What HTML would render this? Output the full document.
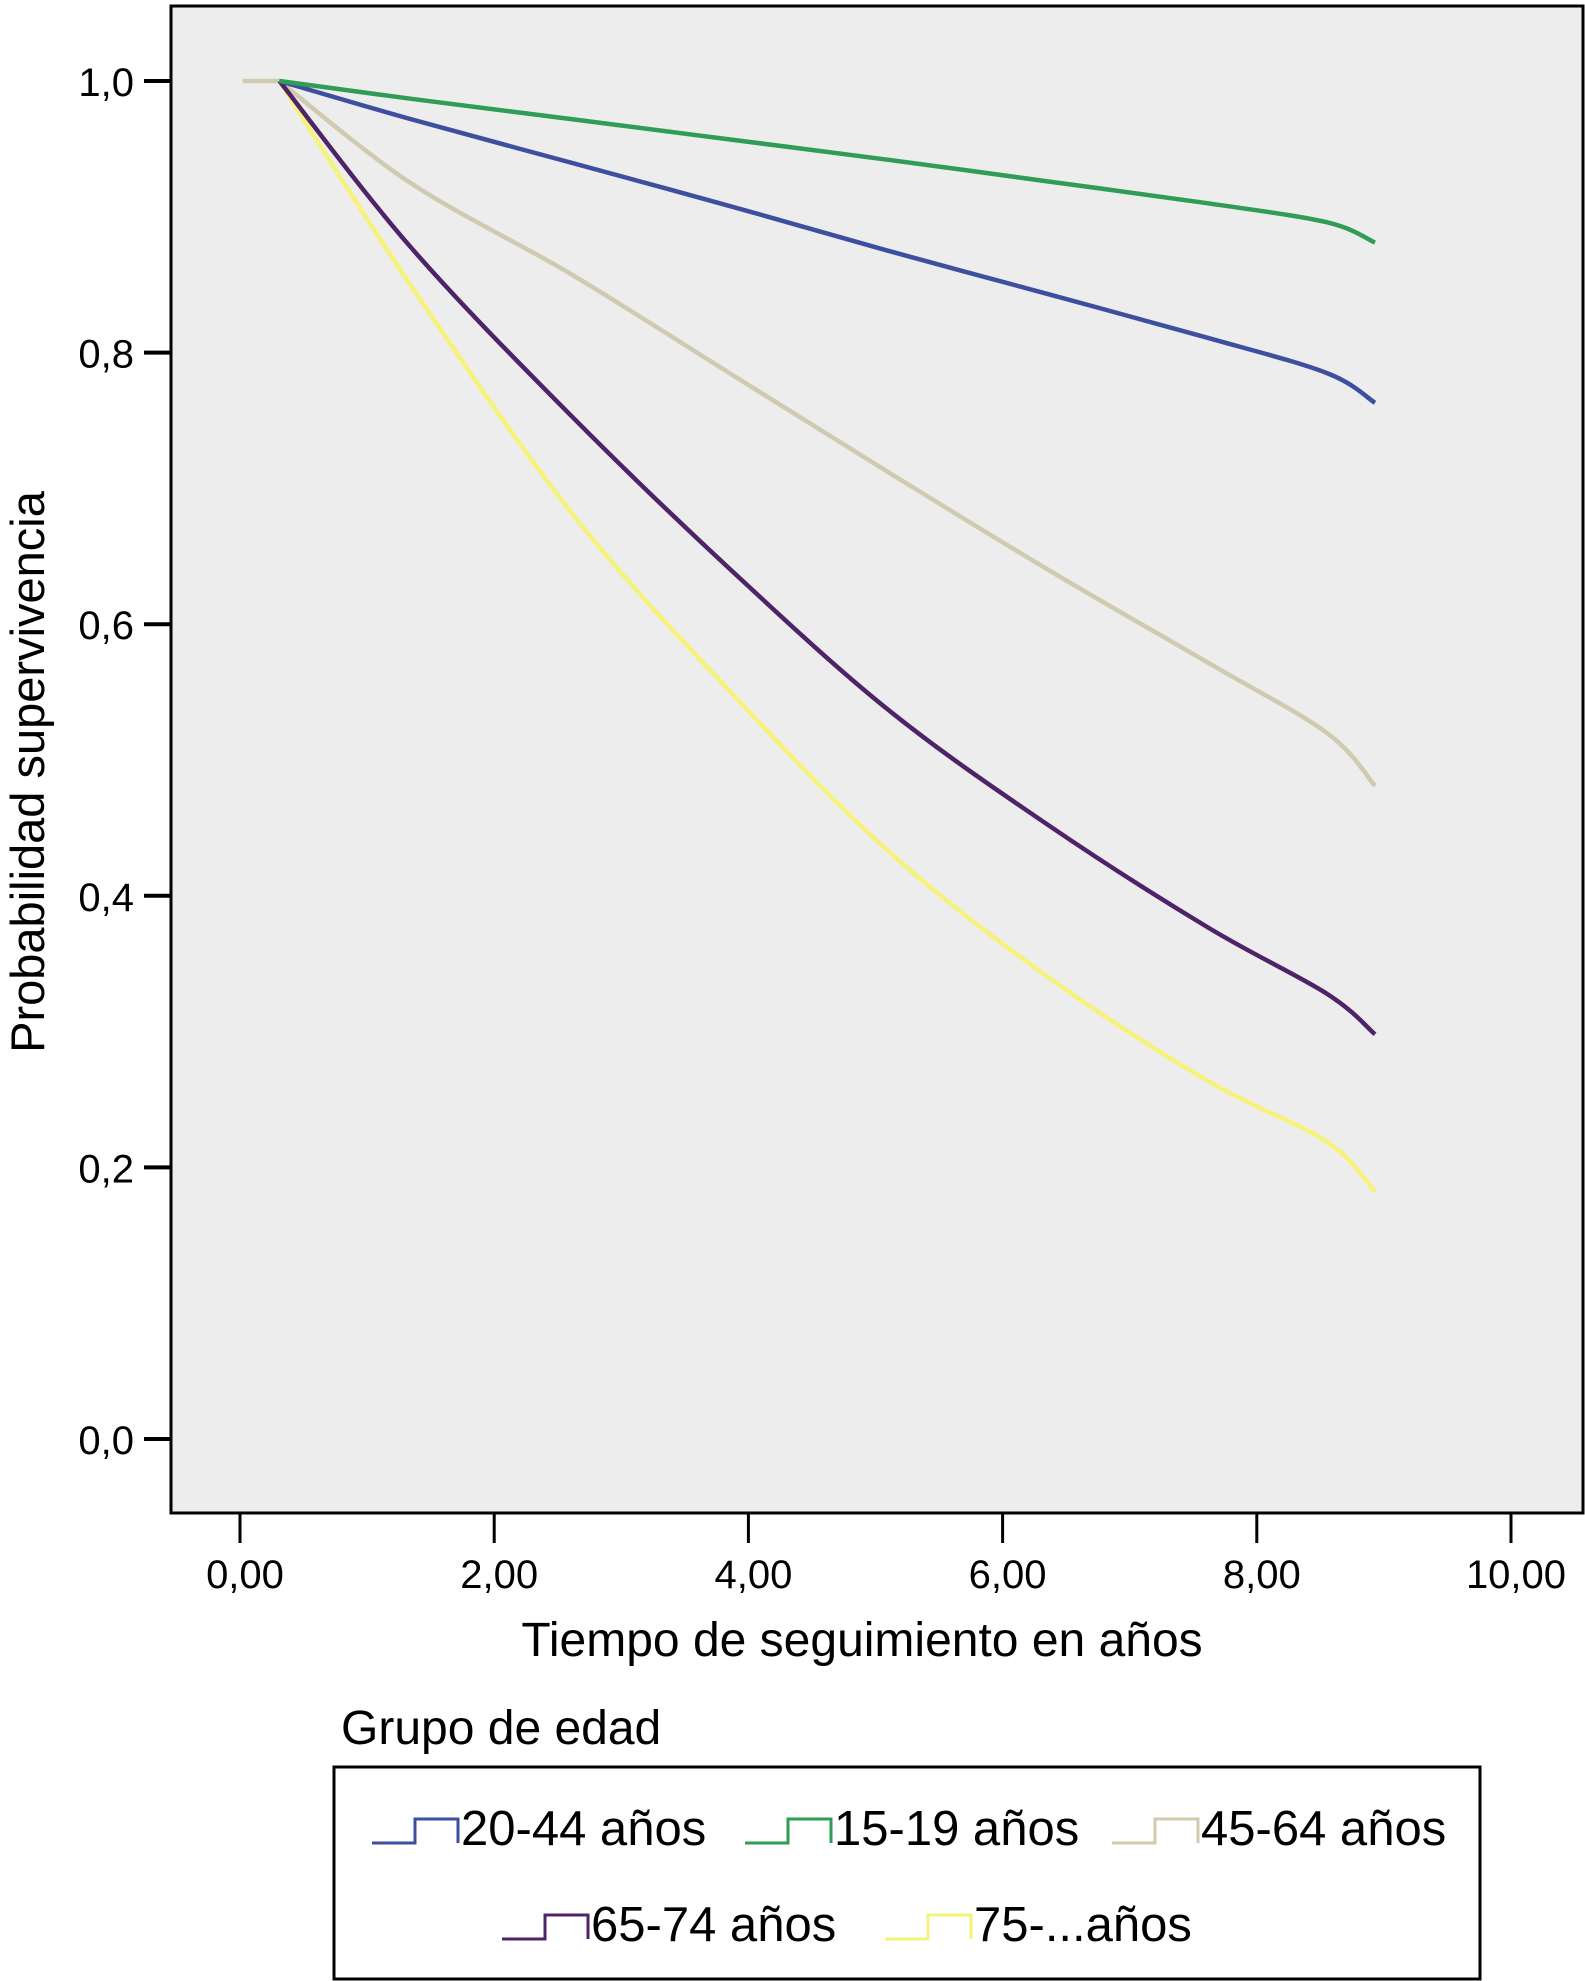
<!DOCTYPE html>
<html><head><meta charset="utf-8"><style>
html,body{margin:0;padding:0;background:#fff;width:1585px;height:1981px;overflow:hidden}
svg text{font-family:"Liberation Sans",sans-serif;fill:#000}
</style></head><body>
<svg id="chart" width="1585" height="1981" viewBox="0 0 1585 1981" xmlns="http://www.w3.org/2000/svg">
<rect x="171" y="6" width="1412" height="1507" fill="#ededed" stroke="#000" stroke-width="3"/>
<g id="yticks"></g><g id="xticks"></g><g id="series"></g>
<text transform="translate(44,772) rotate(-90)" text-anchor="middle" font-size="47">Probabilidad supervivencia</text>
<text x="862" y="1656" text-anchor="middle" font-size="48">Tiempo de seguimiento en años</text>
<text x="341" y="1744" font-size="48">Grupo de edad</text>
<rect x="334" y="1767" width="1146" height="212" fill="none" stroke="#000" stroke-width="3"/>
<g id="legend"></g>
</svg>
<script>
const yTickVals=[0,0.2,0.4,0.6,0.8,1.0];
const yTickLabels=["0,0","0,2","0,4","0,6","0,8","1,0"];
const xTickVals=[0,2,4,6,8,10];
const xTickLabels=["0,00","2,00","4,00","6,00","8,00","10,00"];
const seriesNames=["20-44 años","15-19 años","45-64 años","65-74 años","75-...años"];
const seriesColors=["#3d4f9e","#2f9d55","#cfcab0","#4f2368","#f6f27a"];
const times=[0.31,1.34,2.60,3.85,5.10,6.36,7.61,8.55,8.93];
const v2044=[1.0,0.972,0.940,0.908,0.875,0.843,0.811,0.785,0.763];
const v1519=[1.0,0.987,0.972,0.957,0.942,0.926,0.910,0.896,0.881];
const v4564=[1.0,0.925,0.858,0.785,0.712,0.640,0.572,0.520,0.481];
const v6574=[1.0,0.878,0.754,0.641,0.537,0.452,0.377,0.328,0.298];
const v75=[1.0,0.850,0.683,0.551,0.433,0.340,0.264,0.219,0.182];
const seriesVals=[v2044,v1519,v4564,v6574,v75];
const NS="http://www.w3.org/2000/svg";
const X=t=>240+t*127.1, Y=v=>1439-v*1358;
function mk(tag,attrs,parent){const e=document.createElementNS(NS,tag);for(const k in attrs)e.setAttribute(k,attrs[k]);parent.appendChild(e);return e;}
const yt=document.getElementById('yticks');
yTickVals.forEach((v,i)=>{
 const l=mk('line',{x1:144,x2:171,y1:Y(v),y2:Y(v),stroke:'#000','stroke-width':4},yt);
 
 
 const t=mk('text',{x:134,y:Y(v)+15,'text-anchor':'end','font-size':40},yt);
 t.textContent=yTickLabels[i];
 
 
});
const xt=document.getElementById('xticks');
xTickVals.forEach((v,i)=>{
 const l=mk('line',{x1:X(v),x2:X(v),y1:1513,y2:1543,stroke:'#000','stroke-width':3},xt);
 
 
 const t=mk('text',{x:X(v)+5,y:1588,'text-anchor':'middle','font-size':40},xt);
 t.textContent=xTickLabels[i];
 
 
});
function smooth(pts){
 let d='M'+pts[0][0].toFixed(1)+','+pts[0][1].toFixed(1);
 for(let i=0;i<pts.length-1;i++){
  const p0=pts[Math.max(0,i-1)],p1=pts[i],p2=pts[i+1],p3=pts[Math.min(pts.length-1,i+2)];
  const c1=[p1[0]+(p2[0]-p0[0])/6,p1[1]+(p2[1]-p0[1])/6];
  const c2=[p2[0]-(p3[0]-p1[0])/6,p2[1]-(p3[1]-p1[1])/6];
  d+=' C'+c1.map(n=>n.toFixed(1)).join(',')+' '+c2.map(n=>n.toFixed(1)).join(',')+' '+p2[0].toFixed(1)+','+p2[1].toFixed(1);
 }
 return d;
}
const sg=document.getElementById('series');
const order=[2,4,3,0,1];
order.forEach(si=>{
 const pts=times.map((t,i)=>[X(t),Y(seriesVals[si][i])]);
 let d=smooth(pts);
 if(si===2) d='M'+X(0.02)+','+Y(1)+' L'+pts[0][0]+','+pts[0][1]+' '+d.replace(/^M[^ ]+/,'');
 const p=mk('path',{d:d,fill:'none',stroke:seriesColors[si],'stroke-width':4.5,'stroke-linejoin':'round'},sg);
 
 
});
const lg=document.getElementById('legend');
const legPos=[[372,1843],[745,1843],[1112,1843],[502,1939],[885,1939]];
seriesNames.forEach((n,i)=>{
 const [x,y]=legPos[i];
 const g=mk('g',{},lg);
 
 
 mk('path',{d:`M${x},${y} H${x+43} V${y-24} H${x+86} V${y}`,fill:'none',stroke:seriesColors[i],'stroke-width':3},g);
 const t=mk('text',{x:x+89,y:y+2,'font-size':49},g);
 t.textContent=n;
});
</script>
</body></html>
